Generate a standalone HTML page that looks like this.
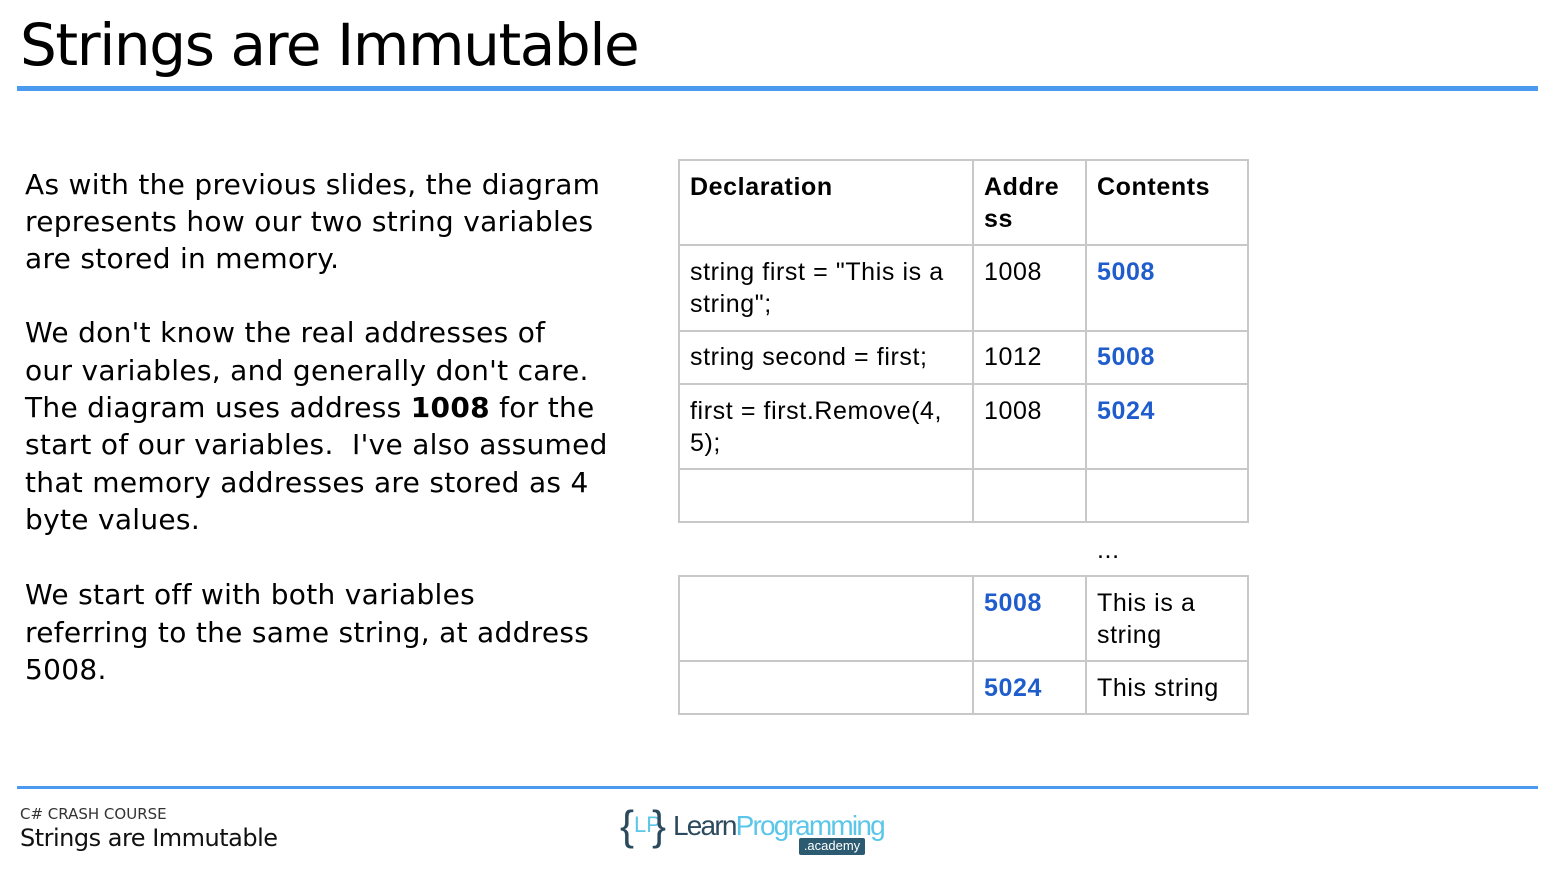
<!DOCTYPE html>
<html><head><style>
body{margin:0;width:1554px;height:871px;background:#fff;position:relative;overflow:hidden;font-family:"DejaVu Sans","Liberation Sans",sans-serif;color:#000}
.a{position:absolute;white-space:nowrap}
.b{font-size:28px;letter-spacing:0.3px}
.t{font-family:"Liberation Sans",Arial,sans-serif;font-size:25px;letter-spacing:0.6px}
.h{font-weight:bold}
.bl{color:#1f5dcc;font-weight:bold}
.hl{position:absolute;height:2px;background:#c8c8c8}
.vl{position:absolute;width:2px;background:#c8c8c8}
</style></head><body>
<div class="a" style="left:20px;top:11px;font-size:58px;letter-spacing:-1.4px">Strings are Immutable</div>
<div style="position:absolute;left:17px;top:86px;width:1521px;height:5px;background:#4a9bf0"></div>

<div class="a b" style="left:25px;top:168px">As with the previous slides, the diagram</div>
<div class="a b" style="left:25px;top:205px">represents how our two string variables</div>
<div class="a b" style="left:25px;top:242px">are stored in memory.</div>
<div class="a b" style="left:25px;top:316px">We don't know the real addresses of</div>
<div class="a b" style="left:25px;top:354px">our variables, and generally don't care.</div>
<div class="a b" style="left:25px;top:391px">The diagram uses address <b>1008</b> for the</div>
<div class="a b" style="left:25px;top:428px">start of our variables.&nbsp; I've also assumed</div>
<div class="a b" style="left:25px;top:466px">that memory addresses are stored as 4</div>
<div class="a b" style="left:25px;top:503px">byte values.</div>
<div class="a b" style="left:25px;top:578px">We start off with both variables</div>
<div class="a b" style="left:25px;top:616px">referring to the same string, at address</div>
<div class="a b" style="left:25px;top:653px">5008.</div>

<div class="hl" style="left:678px;top:159px;width:571px"></div>
<div class="hl" style="left:678px;top:244px;width:571px"></div>
<div class="hl" style="left:678px;top:330px;width:571px"></div>
<div class="hl" style="left:678px;top:383px;width:571px"></div>
<div class="hl" style="left:678px;top:468px;width:571px"></div>
<div class="hl" style="left:678px;top:521px;width:571px"></div>
<div class="vl" style="left:678px;top:159px;height:364px"></div>
<div class="vl" style="left:972px;top:159px;height:364px"></div>
<div class="vl" style="left:1085px;top:159px;height:364px"></div>
<div class="vl" style="left:1247px;top:159px;height:364px"></div>

<div class="a t h" style="left:690px;top:173px">Declaration</div>
<div class="a t h" style="left:984px;top:173px">Addre</div>
<div class="a t h" style="left:984px;top:205px">ss</div>
<div class="a t h" style="left:1097px;top:173px">Contents</div>
<div class="a t" style="left:690px;top:258px">string first = "This is a</div>
<div class="a t" style="left:690px;top:290px">string";</div>
<div class="a t" style="left:984px;top:258px">1008</div>
<div class="a t bl" style="left:1097px;top:258px">5008</div>
<div class="a t" style="left:690px;top:343px">string second = first;</div>
<div class="a t" style="left:984px;top:343px">1012</div>
<div class="a t bl" style="left:1097px;top:343px">5008</div>
<div class="a t" style="left:690px;top:397px">first = first.Remove(4,</div>
<div class="a t" style="left:690px;top:429px">5);</div>
<div class="a t" style="left:984px;top:397px">1008</div>
<div class="a t bl" style="left:1097px;top:397px">5024</div>
<div class="a t" style="left:1097px;top:536px">...</div>

<div class="hl" style="left:678px;top:575px;width:571px"></div>
<div class="hl" style="left:678px;top:660px;width:571px"></div>
<div class="hl" style="left:678px;top:713px;width:571px"></div>
<div class="vl" style="left:678px;top:575px;height:140px"></div>
<div class="vl" style="left:972px;top:575px;height:140px"></div>
<div class="vl" style="left:1085px;top:575px;height:140px"></div>
<div class="vl" style="left:1247px;top:575px;height:140px"></div>
<div class="a t bl" style="left:984px;top:589px">5008</div>
<div class="a t" style="left:1097px;top:589px">This is a</div>
<div class="a t" style="left:1097px;top:621px">string</div>
<div class="a t bl" style="left:984px;top:674px">5024</div>
<div class="a t" style="left:1097px;top:674px">This string</div>

<div style="position:absolute;left:17px;top:786px;width:1521px;height:3px;background:#4a9bf0"></div>
<div class="a" style="left:20px;top:805px;font-size:15px;color:#333">C# CRASH COURSE</div>
<div class="a" style="left:20px;top:824px;font-size:24px;letter-spacing:-0.5px;color:#111">Strings are Immutable</div>
<div class="a" style="left:620px;top:802px;font-size:42px;color:#2c4a5e;font-family:'Liberation Sans',sans-serif">{</div>
<div class="a" style="left:634px;top:812px;font-size:22px;color:#5bc6e8;font-family:'Liberation Sans',sans-serif">LP</div>
<div class="a" style="left:652px;top:802px;font-size:42px;color:#2c4a5e;font-family:'Liberation Sans',sans-serif">}</div>
<div class="a" style="left:673px;top:810px;font-size:28px;letter-spacing:-1.8px;font-family:'Liberation Sans',sans-serif"><span style="color:#2c4a5e">Learn</span><span style="color:#5bc6e8">Programming</span></div>
<div class="a" style="left:799px;top:838px;width:66px;height:17px;background:#2c5a70;border-radius:2px;color:#fff;font-size:13px;text-align:center;line-height:16px;font-family:'Liberation Sans',sans-serif">.academy</div>
</body></html>
